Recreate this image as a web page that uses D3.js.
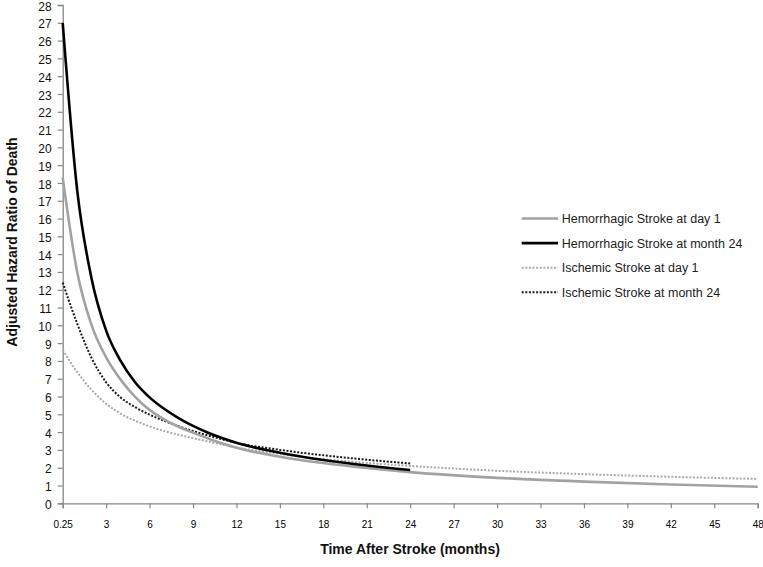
<!DOCTYPE html>
<html>
<head>
<meta charset="utf-8">
<script src="https://cdn.jsdelivr.net/npm/d3@7"></script>
<style>
  html, body { margin: 0; padding: 0; background: #fff; }
  svg { display: block; }
  text { font-family: "Liberation Sans", Arial, sans-serif; }
</style>
</head>
<body>
<svg id="chart" width="763" height="567"></svg>
<script>
// ---- data ----
const months = [0.25, 1, 2, 3, 4, 5, 6, 7, 8, 9, 10, 11, 12, 15, 18, 21, 24, 30, 36, 42, 48];
const hemorrhagicDay1 = [18.3, 13.0, 10.0, 8.2, 6.95, 5.98, 5.25, 4.72, 4.3, 3.97, 3.66, 3.37, 3.12, 2.62, 2.26, 1.98, 1.75, 1.43, 1.22, 1.06, 0.93];
const hemorrhagicMonth24 = [27.0, 17.6, 12.6, 9.7, 8.0, 6.8, 5.95, 5.31, 4.79, 4.35, 3.98, 3.67, 3.4, 2.84, 2.43, 2.12, 1.87];
const ischemicDay1 = [8.62, 7.37, 6.37, 5.59, 5.04, 4.64, 4.32, 4.06, 3.85, 3.66, 3.48, 3.3, 3.14, 2.77, 2.48, 2.27, 2.1, 1.83, 1.64, 1.49, 1.37];
const ischemicMonth24 = [12.4, 10.1, 8.15, 6.8, 5.95, 5.4, 4.98, 4.64, 4.33, 4.06, 3.82, 3.6, 3.4, 3.0, 2.7, 2.45, 2.24];
const seriesNames = ["Hemorrhagic Stroke at day 1", "Hemorrhagic Stroke at month 24", "Ischemic Stroke at day 1", "Ischemic Stroke at month 24"];
const xTickValues = [0.25, 3, 6, 9, 12, 15, 18, 21, 24, 27, 30, 33, 36, 39, 42, 45, 48];
const xTickLabels = ["0.25", "3", "6", "9", "12", "15", "18", "21", "24", "27", "30", "33", "36", "39", "42", "45", "48"];
const yTickValues = d3.range(0, 29);
const xTitle = "Time After Stroke (months)";
const yTitle = "Adjusted Hazard Ratio of Death";

// ---- layout ----
const plotLeft = 62.7, plotRight = 757.7, plotTop = 5, plotBottom = 503.3;
const step = (plotRight - plotLeft) / (xTickValues.length - 1);
const svg = d3.select("#chart");

// category-style axis: 0.25, 1, 2, 3, ... are evenly spaced categories
const x = d3.scaleLinear().domain([0.25, 1, 48]).range([plotLeft, plotLeft + step / 3, plotRight]);
const y = d3.scaleLinear().domain([0, 28]).range([plotBottom, plotTop]);

const axisColor = "#868686";

// y axis
const yAxis = svg.append("g").attr("transform", `translate(${plotLeft},0)`)
  .call(d3.axisLeft(y).tickValues(yTickValues).tickSize(5).tickPadding(6).tickFormat(d3.format("d")));
yAxis.select(".domain").attr("stroke", axisColor).attr("stroke-width", 1.3);
yAxis.selectAll(".tick line").attr("stroke", axisColor).attr("stroke-width", 1.2);
yAxis.selectAll(".tick text").attr("fill", "#111").attr("font-size", 12).attr("dy", "0.42em")
  .attr("font-family", "Liberation Sans, Arial, sans-serif");

// x axis
const xAxis = svg.append("g").attr("transform", `translate(0,${plotBottom})`)
  .call(d3.axisBottom(x).tickValues(xTickValues).tickSize(5).tickPadding(13)
    .tickFormat((d, i) => xTickLabels[i]));
xAxis.select(".domain").attr("stroke", axisColor).attr("stroke-width", 1.3);
xAxis.selectAll(".tick line").attr("stroke", axisColor).attr("stroke-width", 1.2);
xAxis.selectAll(".tick text").attr("fill", "#000").attr("font-size", 10)
  .attr("font-family", "Liberation Sans, Arial, sans-serif");

// titles
svg.append("text").attr("x", 410).attr("y", 554).attr("text-anchor", "middle")
  .attr("font-size", 14).attr("font-weight", "bold").attr("fill", "#111").text(xTitle);
svg.append("text").attr("transform", "translate(17,242) rotate(-90)").attr("text-anchor", "middle")
  .attr("font-size", 14).attr("font-weight", "bold").attr("fill", "#111").text(yTitle);

// series
const styles = [
  { color: "#a2a2a2", width: 2.6, dash: null },
  { color: "#000000", width: 2.6, dash: null },
  { color: "#aaaaaa", width: 2, dash: "2,1.6" },
  { color: "#1a1a1a", width: 2, dash: "2,1.6" }
];
const seriesValues = [hemorrhagicDay1, hemorrhagicMonth24, ischemicDay1, ischemicMonth24];
const line = d3.line().x(d => x(d[0])).y(d => y(d[1])).curve(d3.curveMonotoneX);

// draw order: light dotted, dark dotted, gray solid, black solid
[2, 3, 0, 1].forEach(i => {
  const pts = seriesValues[i].map((v, k) => [months[k], v]);
  const p = svg.append("path").datum(pts).attr("d", line)
    .attr("fill", "none").attr("stroke", styles[i].color).attr("stroke-width", styles[i].width);
  if (styles[i].dash) p.attr("stroke-dasharray", styles[i].dash);
});

// legend
const legY0 = 218.5, legStep = 24.6;
seriesNames.forEach((name, i) => {
  const yy = legY0 + i * legStep;
  const l = svg.append("line").attr("x1", 521.7).attr("x2", 558).attr("y1", yy).attr("y2", yy)
    .attr("stroke", styles[i].color).attr("stroke-width", styles[i].width);
  if (styles[i].dash) l.attr("stroke-dasharray", styles[i].dash);
  svg.append("text").attr("x", 561.7).attr("y", yy + 4.5).attr("font-size", 12.5)
    .attr("fill", "#222").text(name);
});
</script>
</body>
</html>
